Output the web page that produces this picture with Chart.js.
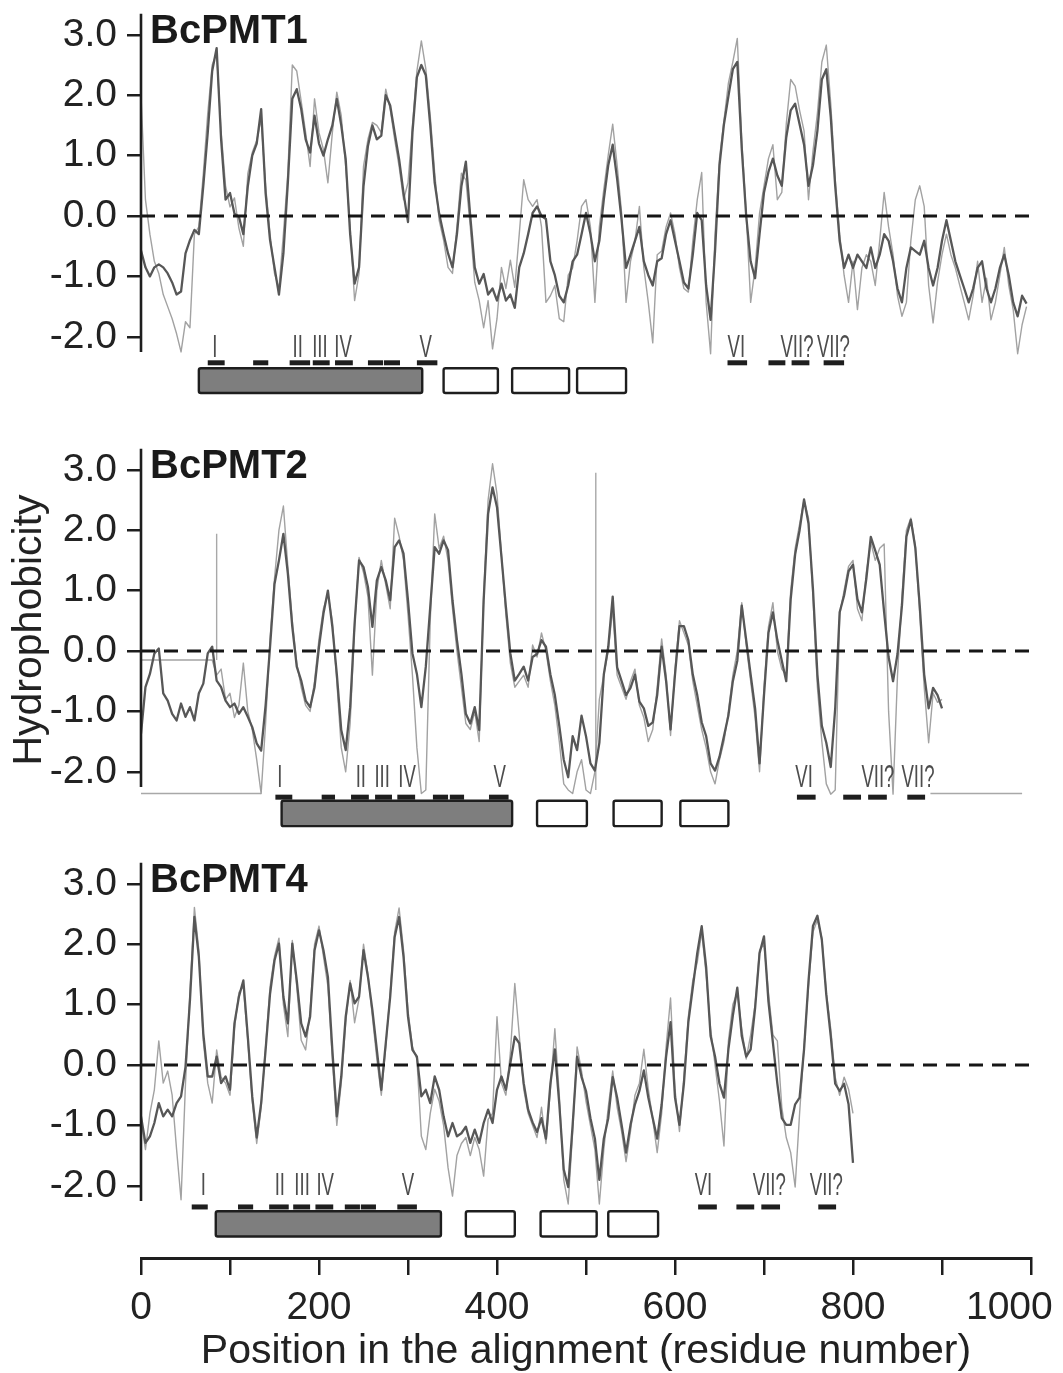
<!DOCTYPE html>
<html><head><meta charset="utf-8">
<script src="https://cdn.jsdelivr.net/npm/chart.js"></script>
<style>
html,body{margin:0;padding:0;background:#fff;width:1063px;height:1373px;overflow:hidden}
canvas{position:absolute;left:0}
</style></head><body>
<canvas id="c1" width="1063" height="420" style="top:0px"></canvas>
<canvas id="c2" width="1063" height="420" style="top:420px"></canvas>
<canvas id="c3" width="1063" height="533" style="top:840px"></canvas>
<script>
// ---------- data ----------
const residueStep = 5;
const xTickValues = [0,100,200,300,400,500,600,700,800,900,1000];
const xTickLabels = ['0','','200','','400','','600','','800','','1000'];
const yTickValues = [-2,-1,0,1,2,3];
const yTickLabels = ['-2.0','-1.0','0.0','1.0','2.0','3.0'];
const zeroLineResidues = [0, 1000];
const zeroLineValues = [0, 0];
const panelNames = ['BcPMT1','BcPMT2','BcPMT4'];
const xAxisTitle = 'Position in the alignment (residue number)';
const yAxisTitle = 'Hydrophobicity';
const motifLabels = ['I','II','III','IV','V','VI','VII?','VII?'];

const p1Dark = [
-0.57,-0.85,-1.0,-0.85,-0.8,-0.85,-0.95,-1.1,-1.3,-1.25,-0.62,-0.4,-0.23,-0.3,0.5,1.38,2.4,2.78,1.27,0.27,
0.38,0.04,-0.01,-0.3,0.49,1.0,1.2,1.77,0.38,-0.4,-0.85,-1.3,-0.62,0.55,1.94,2.1,1.77,1.27,1.05,1.66,
1.2,1.0,1.27,1.5,1.94,1.5,0.94,-0.3,-1.12,-0.85,0.49,1.16,1.5,1.27,1.33,2.0,1.83,1.38,0.94,0.38,
-0.1,1.38,2.3,2.5,2.33,1.5,0.55,0.04,-0.3,-0.62,-0.85,-0.3,0.49,0.9,-0.01,-0.85,-1.12,-0.96,-1.3,-1.2,
-1.4,-1.12,-1.4,-1.3,-1.52,-0.85,-0.62,-0.3,0.05,0.16,0,-0.05,-0.75,-0.98,-1.32,-1.43,-1.15,-0.75,-0.64,-0.3,
0.05,-0.3,-0.75,-0.41,0.27,0.84,1.18,0.61,-0.07,-0.86,-0.64,-0.41,-0.18,-0.75,-0.98,-1.15,-0.75,-0.7,-0.3,-0.07,
-0.41,-0.75,-1.1,-1.2,-0.64,0.05,-0.07,-1.15,-1.72,-0.58,0.84,1.52,1.98,2.43,2.55,1.12,0,-0.75,-1.03,-0.3,
0.39,0.73,0.95,0.67,0.5,1.3,1.75,1.86,1.52,1.18,0.5,0.84,1.41,2.26,2.43,1.64,0.5,-0.41,-0.86,-0.64,
-0.86,-0.64,-0.75,-0.86,-0.52,-0.86,-0.64,-0.3,-0.41,-0.75,-1.2,-1.43,-0.86,-0.52,-0.58,-0.64,-0.41,-0.86,-1.15,-0.86,
-0.41,-0.07,-0.41,-0.75,-0.98,-1.2,-1.43,-1.2,-0.86,-0.75,-1.2,-1.43,-1.2,-0.86,-0.64,-0.98,-1.43,-1.66,-1.32,-1.45
];
const p1Light = [
2.0,0.27,-0.3,-0.75,-0.95,-1.3,-1.5,-1.7,-1.95,-2.25,-1.75,-1.85,-0.3,-0.18,0.7,1.7,2.5,2.7,1.4,0.5,
0.15,0.3,-0.2,-0.5,0.7,1.05,1.25,1.6,0.5,-0.3,-0.95,-1.2,-0.3,0.71,2.5,2.4,1.9,1.38,0.82,1.94,
1.38,1.1,0.55,1.38,2.05,1.66,0.82,-0.18,-1.4,-0.95,0.82,1.27,1.55,1.5,1.38,2.1,1.77,1.27,0.82,0.27,
0.55,1.5,2.4,2.9,2.44,1.66,0.71,-0.07,-0.4,-0.85,-0.95,-0.18,0.71,0.6,-0.18,-1.1,-1.4,-1.85,-1.4,-2.2,
-1.7,-0.85,-1.2,-0.73,-1.18,-0.3,0.6,0.27,0.16,0.27,-0.18,-1.43,-1.32,-1.15,-1.7,-1.75,-0.98,-0.86,-0.41,0.16,
0.27,-0.18,-1.43,-0.18,0.44,1.01,1.52,0.84,0.05,-1.43,-0.75,-0.41,0.16,-0.86,-1.43,-2.1,-0.64,-0.58,-0.18,0.05,
-0.3,-0.86,-1.2,-1.26,-0.41,0.27,0.72,-1.43,-2.28,-0.3,0.95,1.58,2.2,2.55,2.94,1.24,0.05,-1.43,-0.86,0.05,
0.5,0.95,1.18,0.27,0.39,1.52,2.26,2.15,1.75,1.41,0.27,1.07,1.7,2.55,2.83,1.86,0.61,-0.3,-0.98,-1.43,
-0.75,-1.55,-0.86,-0.64,-0.75,-1.15,-0.41,0.39,-0.18,-0.64,-1.32,-1.66,-1.43,-0.41,0.27,0.5,0.16,-1.15,-1.77,-1.09,
-0.64,-0.3,-0.64,-0.86,-1.15,-1.43,-1.72,-1.32,-0.75,-1.43,-1.03,-1.72,-1.43,-0.98,-0.52,-1.15,-1.55,-2.28,-1.8,-1.5
];
const p2Dark = [
-1.37,-0.6,-0.38,-0.04,0.04,-0.7,-0.82,-1.04,-1.15,-0.87,-1.09,-0.93,-1.15,-0.7,-0.54,-0.04,0.07,-0.49,-0.6,-0.82,
-0.93,-0.87,-1.04,-0.93,-1.09,-1.26,-1.53,-1.65,-0.9,0.07,1.11,1.5,1.94,1.28,0.4,-0.26,-0.49,-0.82,-0.93,-0.6,
0.07,0.62,1.0,0.4,-0.38,-1.31,-1.64,-0.93,0.45,1.5,1.39,1.06,0.4,1.17,1.39,1.17,0.84,1.72,1.83,1.61,
0.84,-0.04,-0.38,-0.93,-0.26,0.73,1.72,1.61,1.83,1.67,0.84,0.18,-0.38,-1.04,-1.2,-0.93,-1.31,0.84,2.27,2.71,
2.38,1.56,0.73,-0.04,-0.49,-0.38,-0.26,-0.49,-0.1,-0.05,0.18,0.07,-0.39,-0.73,-1.24,-1.8,-2.09,-1.41,-1.64,-1.07,
-1.41,-1.86,-1.98,-1.52,-0.39,0.07,0.9,-0.27,-0.5,-0.73,-0.61,-0.39,-0.84,-0.95,-1.24,-1.18,-0.73,0.07,-0.5,-1.3,
-0.39,0.41,0.41,0.18,-0.39,-0.73,-1.18,-1.41,-1.86,-1.98,-1.75,-1.41,-1.07,-0.5,-0.16,0.75,0.18,-0.39,-0.95,-1.86,
-0.73,0.3,0.64,0.18,-0.16,-0.5,0.86,1.6,2.0,2.51,2.11,1.03,-0.39,-1.24,-1.52,-1.92,-0.95,0.64,0.92,1.32,
1.43,0.86,0.64,1.2,1.89,1.66,1.43,0.64,-0.1,-0.5,-0.05,0.75,1.89,2.17,1.71,0.75,-0.39,-0.95,-0.61,-0.73,-0.95
];
const p2Light = [
-0.15,-0.15,-0.15,-0.15,-0.15,-0.15,-0.15,-0.15,-0.15,-0.15,-0.15,-0.15,-0.15,-0.15,-0.15,-0.15,-0.15,-0.4,-0.3,-0.8,
-0.7,-1.1,-0.9,-0.2,-1.0,-1.3,-1.8,-2.36,-1.2,0.2,1.2,2.0,2.4,1.4,0.5,-0.2,-0.6,-0.9,-1.0,-0.5,
0.2,0.7,0.95,0.5,-0.5,-1.6,-2.0,-1.2,0.4,1.55,1.3,0.9,-0.4,1.0,1.5,1.1,0.7,2.2,1.9,1.5,
0.6,-0.4,-1.6,-2.36,-2.3,0.5,2.27,1.7,1.9,1.5,0.7,0.0,-0.6,-1.2,-1.3,-1.0,-1.5,0.9,2.5,3.1,
2.6,1.6,0.6,-0.2,-0.6,-0.5,-0.4,-0.6,0.1,-0.1,0.3,0.0,-0.5,-0.9,-1.5,-2.2,-2.3,-2.36,-2.0,-1.8,
-2.3,-2.36,-2.0,-0.8,-0.4,0.0,0.7,-0.4,-0.6,-0.8,-0.5,-0.3,-0.9,-1.1,-1.5,-1.3,-0.6,0.2,-0.4,-1.4,
-0.3,0.5,0.3,0.1,-0.5,-0.9,-1.3,-1.6,-2.0,-2.2,-1.8,-1.5,-1.0,-0.4,0.0,0.8,0.1,-0.5,-1.1,-2.0,
-0.6,0.4,0.8,0.0,-0.3,-0.4,1.0,1.7,2.1,2.5,2.2,0.9,-0.6,-1.5,-2.2,-2.37,-2.3,0.6,1.0,1.4,
1.5,0.7,0.5,1.3,1.8,1.5,1.7,1.77,-1.0,-2.37,-0.4,0.9,2.0,2.2,1.75,0.6,-0.6,-1.52,-0.7,-0.85,-0.8
];
const p2SpikeAt = [85, 511];
const p2SpikeLow = [-0.15, -2.3];
const p2SpikeHigh = [1.94, 2.95];
const p2BaselineFrom = [0, 887];
const p2BaselineTo = [135, 990];
const p2BaselineValue = -2.36;

const p4Dark = [
-0.85,-1.29,-1.18,-0.96,-0.63,-0.85,-0.74,-0.85,-0.63,-0.52,-0.03,1.07,2.45,1.79,0.52,-0.19,-0.19,0.14,-0.3,-0.19,
-0.41,0.69,1.13,1.4,0.47,-0.52,-1.2,-0.63,0.25,1.18,1.73,2.01,1.13,0.69,2.01,1.4,0.69,0.47,0.8,1.9,
2.23,1.9,1.46,0.25,-0.85,-0.19,0.8,1.35,1.02,1.13,1.9,1.46,0.91,0.25,-0.41,0.36,1.13,2.12,2.45,1.79,
0.8,0.25,0.14,-0.52,-0.41,-0.63,-0.19,-0.41,-0.85,-1.18,-0.96,-1.18,-1.13,-1.02,-1.29,-1.07,-1.29,-0.96,-0.74,-0.96,
-0.41,-0.19,-0.41,0.03,0.47,0.36,-0.3,-0.74,-0.95,-1.11,-0.88,-1.22,-0.31,0.26,-0.65,-1.73,-2.02,-0.99,0.14,-0.2,
-0.43,-0.88,-1.22,-1.9,-1.22,-0.88,-0.2,-0.54,-0.99,-1.45,-0.99,-0.65,-0.43,-0.09,-0.54,-0.88,-1.22,-0.65,0.14,0.71,
-0.54,-0.99,-0.31,0.71,1.28,1.85,2.3,1.62,0.48,0.14,-0.31,-0.54,0.26,0.82,1.28,0.48,0.14,0.26,0.94,1.85,
2.13,1.05,0.37,-0.31,-0.88,-0.99,-0.99,-0.65,-0.54,0.26,1.39,2.3,2.47,2.07,1.16,0.48,-0.31,-0.43,-0.31,-0.65,-1.62
];
const p4Light = [
-0.9,-1.4,-0.8,-0.41,0.4,-0.3,-0.1,-0.5,-1.4,-2.23,-0.3,1.2,2.61,1.9,0.4,-0.3,-0.63,0.25,-0.2,-0.3,
-0.5,0.6,1.2,1.3,0.4,-0.6,-1.3,-0.7,0.3,1.3,1.8,2.1,1.0,0.47,2.06,1.3,0.41,0.25,0.9,2.0,
2.3,1.8,1.3,0.1,-1.0,-0.3,0.7,1.4,0.7,1.1,2.0,1.5,0.8,0.1,-0.5,0.3,1.2,2.2,2.6,1.9,
0.9,0.3,0.1,-1.18,-1.4,-0.8,-0.4,-0.6,-1.0,-1.7,-2.17,-1.5,-1.3,-1.2,-1.5,-1.2,-1.4,-1.84,-0.9,-0.8,
0.8,-0.3,-0.5,0.2,1.35,0.5,-0.4,-0.8,-1.0,-1.2,-0.7,-1.3,-0.4,0.6,-0.5,-1.9,-2.3,-1.1,0.3,-0.1,
-0.6,-1.0,-1.4,-2.3,-1.4,-0.7,-0.1,-0.7,-1.1,-1.6,-1.1,-0.5,-0.3,0.26,-0.4,-0.9,-1.45,-0.8,0.3,1.11,
-0.4,-1.1,-0.2,0.8,1.4,1.7,2.2,1.5,0.6,0.0,-0.6,-1.34,0.4,1.0,1.2,0.6,0.1,0.5,1.0,1.9,
2.0,1.2,0.5,0.4,-0.7,-1.2,-1.45,-2.02,-0.8,0.3,1.3,2.2,2.4,2.1,1.2,0.6,-0.2,-0.5,-0.2,-0.4,-0.8
];

// motif markers (residue positions)
const p1MotifAt = [83,176,201,227,320,669,737,778];
const p1DashFrom = [75,126,167,193,218,255,273,310,659,705,731,767];
const p1DashTo   = [94,143,190,212,238,272,291,333,681,724,751,790];
const p1GrayBox = [65,316];
const p1WhiteFrom = [340,417,490];
const p1WhiteTo   = [401,481,545];

const p2MotifAt = [156,247,271,299,403,745,828,873];
const p2DashFrom = [151,203,236,263,288,328,347,391,737,789,817,861];
const p2DashTo   = [170,218,256,282,308,345,363,413,758,809,838,881];
const p2GrayBox = [158,417];
const p2WhiteFrom = [445,531,606];
const p2WhiteTo   = [501,585,660];

const p4MotifAt = [70,156,181,207,300,632,706,770];
const p4DashFrom = [57,109,144,171,196,229,247,288,626,669,697,761];
const p4DashTo   = [75,126,166,190,216,246,264,310,647,689,718,781];
const p4GrayBox = [84,337];
const p4WhiteFrom = [365,449,525];
const p4WhiteTo   = [420,512,581];

// ---------- helpers ----------
const FONT = '"Liberation Sans", Arial, Helvetica, sans-serif';
Chart.defaults.font.family = FONT;
Chart.defaults.color = '#222';

function toPoints(values) { return values.map((v, i) => ({ x: i * residueStep, y: v })); }
function pairPoints(xs, ys) { return xs.map((x, i) => ({ x: x, y: ys[i] })); }
function spikePoints(at, low, high) {
  const pts = [];
  at.forEach((r, i) => { pts.push({ x: r, y: low[i] }, { x: r, y: high[i] }, { x: r, y: null }); });
  return pts;
}
function segmentPoints(from, to, value) {
  const pts = [];
  from.forEach((f, i) => { pts.push({ x: f, y: value }, { x: to[i], y: value }, { x: to[i], y: null }); });
  return pts;
}

const spineTop = 3.35, spineBottom = -2.25, titleBase = 2.86;

const panels = [
  { id: 'c1', name: panelNames[0], dark: p1Dark, light: p1Light, motifAt: p1MotifAt, dashFrom: p1DashFrom, dashTo: p1DashTo,
    grayBox: p1GrayBox, whiteFrom: p1WhiteFrom, whiteTo: p1WhiteTo, yMin: -3.377, yMax: 3.576,
    labelBase: -2.34, dashY: -2.43, boxTop: -2.52, boxBottom: -2.93, showX: false, showYTitle: false, extra: [] },
  { id: 'c2', name: panelNames[1], dark: p2Dark, light: p2Light, motifAt: p2MotifAt, dashFrom: p2DashFrom, dashTo: p2DashTo,
    grayBox: p2GrayBox, whiteFrom: p2WhiteFrom, whiteTo: p2WhiteTo, yMin: -3.129, yMax: 3.824,
    labelBase: -2.25, dashY: -2.42, boxTop: -2.48, boxBottom: -2.9, showX: false, showYTitle: true,
    extra: [spikePoints(p2SpikeAt, p2SpikeLow, p2SpikeHigh), segmentPoints(p2BaselineFrom, p2BaselineTo, p2BaselineValue)] },
  { id: 'c3', name: panelNames[2], dark: p4Dark, light: p4Light, motifAt: p4MotifAt, dashFrom: p4DashFrom, dashTo: p4DashTo,
    grayBox: p4GrayBox, whiteFrom: p4WhiteFrom, whiteTo: p4WhiteTo, yMin: -3.195, yMax: 3.725,
    labelBase: -2.16, dashY: -2.35, boxTop: -2.42, boxBottom: -2.84, showX: true, showYTitle: false, extra: [] }
];

function decorPlugin(p) {
  return {
    id: 'decor_' + p.id,
    afterDraw(chart) {
      const ctx = chart.ctx, xs = chart.scales.x, ys = chart.scales.y;
      const X = r => xs.getPixelForValue(r), Y = v => ys.getPixelForValue(v);
      ctx.save();
      // y-axis spine
      ctx.strokeStyle = '#1e1e1e'; ctx.lineWidth = 2.6; ctx.lineCap = 'butt';
      ctx.beginPath(); ctx.moveTo(X(0), Y(spineTop)); ctx.lineTo(X(0), Y(spineBottom)); ctx.stroke();
      // panel title
      ctx.fillStyle = '#1a1a1a'; ctx.font = 'bold 40px ' + FONT;
      ctx.textAlign = 'left'; ctx.textBaseline = 'alphabetic';
      ctx.fillText(p.name, X(0) + 9, Y(titleBase));
      // domain boxes
      const bt = Y(p.boxTop), bb = Y(p.boxBottom);
      ctx.lineWidth = 2.4; ctx.strokeStyle = '#1e1e1e';
      const box = (x0, x1, fill) => {
        ctx.beginPath();
        if (ctx.roundRect) ctx.roundRect(x0, bt, x1 - x0, bb - bt, 2); else ctx.rect(x0, bt, x1 - x0, bb - bt);
        ctx.fillStyle = fill; ctx.fill(); ctx.stroke();
      };
      box(X(p.grayBox[0]), X(p.grayBox[1]), '#7e7e7e');
      p.whiteFrom.forEach((f, i) => box(X(f), X(p.whiteTo[i]), '#ffffff'));
      // motif dashes
      ctx.fillStyle = '#1e1e1e';
      p.dashFrom.forEach((f, i) => ctx.fillRect(X(f), Y(p.dashY) - 2.5, X(p.dashTo[i]) - X(f), 5));
      // motif labels (condensed)
      ctx.fillStyle = '#4d4d4d'; ctx.font = '31px ' + FONT; ctx.textAlign = 'center';
      motifLabels.forEach((t, i) => {
        ctx.save(); ctx.translate(X(p.motifAt[i]), Y(p.labelBase)); ctx.scale(0.6, 1);
        ctx.fillText(t, 0, 0); ctx.restore();
      });
      ctx.restore();
    }
  };
}

function makePanel(p) {
  const datasets = [
    { data: pairPoints(zeroLineResidues, zeroLineValues), borderColor: '#161616', borderWidth: 3, borderDash: [14, 9] },
    { data: toPoints(p.dark), borderColor: '#575757', borderWidth: 2.3 },
    { data: toPoints(p.light), borderColor: '#a2a2a2', borderWidth: 1.4 }
  ];
  p.extra.forEach(pts => datasets.push({ data: pts, borderColor: '#a8a8a8', borderWidth: 1.4 }));
  datasets.forEach(d => { d.pointRadius = 0; d.fill = false; d.spanGaps = false; });

  const xScale = {
    type: 'linear', min: 0, max: 1000, display: p.showX, position: 'bottom',
    afterBuildTicks: s => { s.ticks = xTickValues.map(v => ({ value: v })); },
    afterFit: s => { if (p.showX) s.height = 115; s.paddingLeft = 0; s.paddingRight = 0; },
    border: { display: true, color: '#1e1e1e', width: 3 },
    grid: { drawOnChartArea: false, drawTicks: true, tickLength: 17, color: '#1e1e1e', lineWidth: 2.5 },
    ticks: { autoSkip: false, maxRotation: 0, minRotation: 0, padding: 10, color: '#222', font: { size: 39 },
      callback: (v, i) => (i === xTickLabels.length - 1 ? xTickLabels[i] + '    ' : xTickLabels[i]) },
    title: { display: true, text: xAxisTitle, color: '#222', font: { size: 41 }, padding: { top: 0, bottom: -3 } }
  };
  const yScale = {
    min: p.yMin, max: p.yMax,
    afterBuildTicks: s => { s.ticks = yTickValues.map(v => ({ value: v })); },
    afterFit: s => { s.width = 141; s.paddingTop = 0; s.paddingBottom = 0; },
    border: { display: false },
    grid: { drawOnChartArea: false, drawTicks: true, tickLength: 14, color: '#1e1e1e', lineWidth: 2.5 },
    ticks: { padding: 10, color: '#222', font: { size: 39 }, callback: (v, i) => yTickLabels[i] },
    title: { display: p.showYTitle, text: yAxisTitle, color: '#222', font: { size: 41 }, padding: { top: 5, bottom: 0 } }
  };
  new Chart(document.getElementById(p.id), {
    type: 'line',
    data: { datasets },
    options: {
      responsive: false, animation: false, events: [],
      layout: { padding: { left: 0, right: 32, top: 0, bottom: 0 } },
      plugins: { legend: { display: false }, tooltip: { enabled: false }, title: { display: false } },
      elements: { line: { tension: 0, borderJoinStyle: 'round' } },
      scales: { x: xScale, y: yScale }
    },
    plugins: [decorPlugin(p)]
  });
}
panels.forEach(makePanel);
</script>
</body></html>
